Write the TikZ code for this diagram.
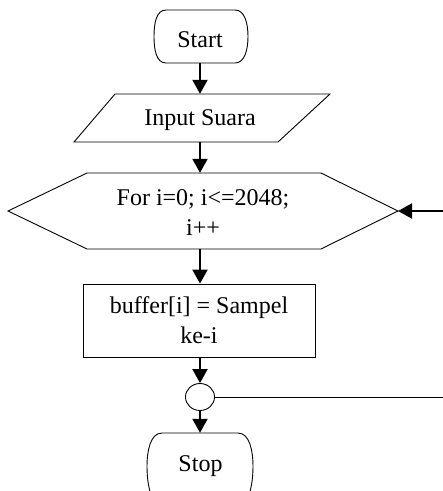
\documentclass[tikz,border=0pt]{standalone}
\usepackage{fontspec}
\setmainfont{Liberation Serif}
\usetikzlibrary{arrows.meta,shapes.geometric}
\begin{document}
\begin{tikzpicture}[x=1pt,y=-1pt,
  outline/.style={line width=0.9pt},
  flow/.style={line width=2pt,-{Triangle[length=14pt,width=15pt]}},
  label/.style={font=\fontsize{24}{30}\selectfont,align=center,inner sep=0pt},
  anchorbox/.style={draw=none,rectangle,inner sep=0pt}]
\useasboundingbox (0,0) rectangle (443,491);
\clip (0,0) rectangle (443,491);

% Start terminal
\node[anchorbox,minimum width=94pt,minimum height=53pt] (start) at (201,36.5) {};
\draw[outline] (166,10) -- (235,10) .. controls (245,10) and (248,24) .. (248,36.5)
  .. controls (248,49) and (245,63) .. (235,63) -- (166,63)
  .. controls (156,63) and (154,49) .. (154,36.5)
  .. controls (154,24) and (156,10) .. (166,10) -- cycle;
\node[label] at (200,40) {Start};

% Input parallelogram
\node[anchorbox,minimum width=200pt,minimum height=48pt] (input) at (200,118) {};
\draw[outline] (115,94) -- (330,94) -- (278,142) -- (74,142) -- cycle;
\node[label] at (200,120) {Input Suara};

% Loop hexagon
\node[anchorbox,minimum width=396pt,minimum height=76pt] (loop) at (200,211) {};
\draw[outline] (87,173) -- (321,173) -- (398,211) -- (321,249) -- (87,249) -- (8,211) -- cycle;
\node[label] at (203,213) {For i=0; i<=2048;\\i++};

% Process box
\node[draw,outline,rectangle,minimum width=232pt,minimum height=73pt,label] (proc) at (199,320.5) {buffer[i] = Sampel\\ke-i};

% Connector circle
\node[draw,outline,ellipse,minimum width=29pt,minimum height=27pt,inner sep=0pt] (join) at (200,397) {};

% Stop terminal (runs past the lower edge)
\node[anchorbox,minimum width=105pt,minimum height=66pt] (stop) at (200.5,466) {};
\draw[outline] (162,433) -- (238,433) .. controls (250,433) and (253,452) .. (253,466)
  .. controls (253,480) and (251,492) .. (246,502);
\draw[outline] (162,433) .. controls (150,433) and (147,452) .. (147,466)
  .. controls (147,480) and (149,492) .. (154,502);
\node[label] at (200.5,466) {Stop};

% Flow lines
\draw[flow] (start.south -| 200,0) -- (input.north -| 200,0);
\draw[flow] (input.south -| 200,0) -- (loop.north -| 200,0);
\draw[flow] (loop.south -| 200,0) -- (proc.north -| 200,0);
\draw[flow] (proc.south -| 200,0) -- (join.north);
\draw[flow] (join.south) -- (stop.north -| 200,0);

% Return path of the loop
\coordinate (backlow) at (443,397);
\coordinate (backhigh) at (443,211);
\draw[outline] (join.east) -- (backlow);
\draw[flow] (backhigh) -- (398,211);
\end{tikzpicture}
\end{document}
